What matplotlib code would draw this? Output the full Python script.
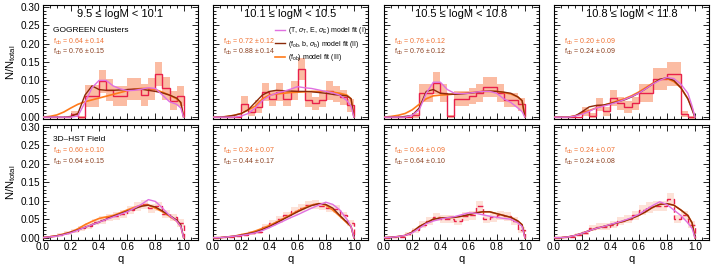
import numpy as np
import matplotlib
matplotlib.use('Agg')
import matplotlib.pyplot as plt
from matplotlib.ticker import MultipleLocator, FormatStrFormatter
from matplotlib.lines import Line2D

plt.rcParams['font.family'] = ['Liberation Sans', 'DejaVu Sans']
plt.rcParams['mathtext.fontset'] = 'custom'
plt.rcParams['mathtext.rm'] = 'Liberation Sans'
plt.rcParams['mathtext.it'] = 'Liberation Sans:italic'
plt.rcParams['mathtext.sf'] = 'Liberation Sans'

# Mass bins (column titles)
mass_bins = ['9.5 \u2264 logM < 10.1', '10.1 \u2264 logM < 10.5',
             '10.5 \u2264 logM < 10.8', '10.8 \u2264 logM < 11.8']
row_names = ['GOGREEN Clusters', '3D\u2013HST Field']

# f_ob fits: (model III, model II) per panel
fob_top = [('0.64 \u00b1 0.14', '0.76 \u00b1 0.15'), ('0.72 \u00b1 0.12', '0.88 \u00b1 0.14'),
           ('0.76 \u00b1 0.12', '0.76 \u00b1 0.12'), ('0.20 \u00b1 0.09', '0.24 \u00b1 0.09')]
fob_bot = [('0.60 \u00b1 0.10', '0.64 \u00b1 0.15'), ('0.24 \u00b1 0.07', '0.44 \u00b1 0.17'),
           ('0.64 \u00b1 0.09', '0.64 \u00b1 0.10'), ('0.24 \u00b1 0.07', '0.24 \u00b1 0.08')]

# histogram bin edges (left), width 0.05
bin_left = [0.00, 0.05, 0.10, 0.15, 0.20, 0.25, 0.30, 0.35, 0.40, 0.45,
            0.50, 0.55, 0.60, 0.65, 0.70, 0.75, 0.80, 0.85, 0.90, 0.95]

# GOGREEN cluster histograms
hist_top = [
    [0, 0, 0, 0, 0.008, 0, 0.057, 0.057, 0.097, 0.075, 0.057, 0.057, 0.077, 0.077, 0.06, 0.077, 0.118, 0.078, 0.045, 0.057],
    [0, 0, 0, 0, 0.037, 0.014, 0.028, 0.068, 0.05, 0.068, 0.05, 0.072, 0.13, 0.047, 0.038, 0.047, 0.072, 0.063, 0.054, 0.032],
    [0, 0, 0, 0, 0.005, 0.066, 0.066, 0.093, 0.066, 0.003, 0.05, 0.05, 0.057, 0.066, 0.083, 0.083, 0.066, 0.047, 0.047, 0.035],
    [0, 0, 0, 0, 0.016, 0.004, 0.034, 0.016, 0.053, 0.038, 0.028, 0.038, 0.065, 0.065, 0.104, 0.104, 0.117, 0.117, 0.008, 0],
]
err_top = [
    [0, 0, 0, 0, 0.008, 0.004, 0.03, 0.03, 0.03, 0.03, 0.028, 0.028, 0.03, 0.03, 0.03, 0.03, 0.032, 0.03, 0.025, 0.028],
    [0, 0, 0, 0, 0.02, 0.012, 0.018, 0.025, 0.02, 0.025, 0.02, 0.025, 0.03, 0.02, 0.018, 0.02, 0.025, 0.022, 0.02, 0.018],
    [0, 0, 0, 0, 0.006, 0.025, 0.025, 0.03, 0.025, 0.004, 0.02, 0.02, 0.022, 0.025, 0.027, 0.027, 0.025, 0.02, 0.02, 0.018],
    [0, 0, 0, 0, 0.012, 0.006, 0.018, 0.012, 0.022, 0.018, 0.016, 0.018, 0.025, 0.025, 0.03, 0.03, 0.032, 0.032, 0.008, 0.004],
]

# 3D-HST field histograms
hist_bot = [
    [0.002, 0.004, 0.008, 0.012, 0.018, 0.025, 0.032, 0.042, 0.048, 0.055, 0.058, 0.065, 0.075, 0.085, 0.09, 0.08, 0.085, 0.065, 0.055, 0.04],
    [0, 0.001, 0.002, 0.004, 0.008, 0.012, 0.015, 0.03, 0.04, 0.05, 0.06, 0.072, 0.08, 0.088, 0.09, 0.085, 0.08, 0.078, 0.06, 0.04],
    [0, 0.001, 0.003, 0.01, 0.02, 0.035, 0.045, 0.055, 0.05, 0.05, 0.045, 0.058, 0.06, 0.085, 0.05, 0.055, 0.06, 0.058, 0.045, 0.02],
    [0, 0.001, 0.003, 0.008, 0.012, 0.025, 0.03, 0.03, 0.035, 0.045, 0.05, 0.06, 0.075, 0.082, 0.085, 0.085, 0.105, 0.05, 0.06, 0.035],
]
err_bot = [
    [0.002, 0.003, 0.004, 0.005, 0.006, 0.007, 0.008, 0.009, 0.01, 0.01, 0.011, 0.011, 0.012, 0.012, 0.013, 0.012, 0.012, 0.011, 0.01, 0.01],
    [0.001, 0.001, 0.002, 0.003, 0.004, 0.005, 0.006, 0.007, 0.008, 0.009, 0.01, 0.01, 0.011, 0.011, 0.012, 0.011, 0.011, 0.01, 0.01, 0.009],
    [0.001, 0.001, 0.002, 0.005, 0.007, 0.009, 0.01, 0.011, 0.011, 0.011, 0.011, 0.012, 0.012, 0.015, 0.011, 0.012, 0.012, 0.012, 0.011, 0.008],
    [0.001, 0.001, 0.002, 0.004, 0.005, 0.008, 0.009, 0.009, 0.01, 0.011, 0.011, 0.012, 0.013, 0.014, 0.014, 0.014, 0.016, 0.011, 0.012, 0.01],
]

# model curves sampled on q grid
q_grid = [0.0, 0.05, 0.1, 0.15, 0.2, 0.25, 0.3, 0.35, 0.4, 0.45, 0.5, 0.55,
          0.6, 0.65, 0.7, 0.75, 0.8, 0.85, 0.9, 0.95, 0.98, 1.0]

fit_I_top = [
    [0, 0, 0, 0, 0, 0.003, 0.04, 0.08, 0.1, 0.1, 0.085, 0.077, 0.072, 0.073, 0.076, 0.08, 0.078, 0.06, 0.042, 0.035, 0.025, 0],
    [0, 0, 0, 0, 0.003, 0.01, 0.025, 0.045, 0.058, 0.065, 0.07, 0.076, 0.083, 0.08, 0.078, 0.074, 0.07, 0.066, 0.06, 0.045, 0.03, 0],
    [0, 0, 0, 0, 0.005, 0.02, 0.065, 0.095, 0.095, 0.075, 0.065, 0.064, 0.065, 0.068, 0.07, 0.07, 0.065, 0.05, 0.04, 0.025, 0.015, 0],
    [0, 0, 0, 0.003, 0.008, 0.016, 0.025, 0.03, 0.035, 0.041, 0.048, 0.056, 0.065, 0.077, 0.09, 0.1, 0.108, 0.105, 0.09, 0.065, 0.03, 0],
]
fit_II_top = [
    [0, 0, 0, 0, 0.002, 0.01, 0.06, 0.085, 0.075, 0.073, 0.073, 0.074, 0.075, 0.076, 0.076, 0.073, 0.07, 0.066, 0.06, 0.052, 0.04, 0],
    [0, 0, 0.002, 0.005, 0.01, 0.02, 0.04, 0.06, 0.07, 0.073, 0.072, 0.071, 0.07, 0.07, 0.069, 0.067, 0.065, 0.062, 0.06, 0.058, 0.05, 0],
    [0, 0, 0, 0.002, 0.005, 0.025, 0.07, 0.075, 0.065, 0.063, 0.062, 0.063, 0.065, 0.067, 0.07, 0.071, 0.07, 0.068, 0.065, 0.055, 0.045, 0],
    [0, 0, 0, 0.003, 0.015, 0.028, 0.032, 0.033, 0.037, 0.042, 0.047, 0.055, 0.065, 0.077, 0.09, 0.103, 0.107, 0.1, 0.08, 0.05, 0.02, 0],
]
fit_III_top = [
    [0, 0.002, 0.006, 0.014, 0.025, 0.035, 0.042, 0.047, 0.052, 0.057, 0.062, 0.067, 0.072, 0.076, 0.078, 0.078, 0.075, 0.068, 0.06, 0.05, 0.04, 0],
    [0, 0, 0.002, 0.005, 0.01, 0.02, 0.03, 0.05, 0.06, 0.063, 0.065, 0.067, 0.068, 0.069, 0.07, 0.07, 0.07, 0.068, 0.065, 0.06, 0.05, 0],
    [0, 0.002, 0.005, 0.01, 0.02, 0.035, 0.05, 0.058, 0.06, 0.061, 0.063, 0.065, 0.066, 0.068, 0.07, 0.07, 0.07, 0.067, 0.063, 0.055, 0.045, 0],
    [0, 0, 0, 0.004, 0.01, 0.018, 0.025, 0.032, 0.038, 0.044, 0.05, 0.058, 0.068, 0.08, 0.092, 0.102, 0.105, 0.097, 0.08, 0.05, 0.025, 0],
]

fit_I_bot = [
    [0, 0.002, 0.004, 0.008, 0.013, 0.02, 0.028, 0.035, 0.042, 0.049, 0.056, 0.063, 0.07, 0.08, 0.09, 0.103, 0.098, 0.08, 0.06, 0.045, 0.03, 0],
    [0, 0, 0.002, 0.004, 0.006, 0.009, 0.013, 0.019, 0.027, 0.036, 0.045, 0.054, 0.062, 0.071, 0.08, 0.088, 0.096, 0.09, 0.075, 0.05, 0.03, 0],
    [0, 0.001, 0.003, 0.006, 0.013, 0.025, 0.038, 0.045, 0.05, 0.054, 0.057, 0.062, 0.067, 0.066, 0.062, 0.058, 0.055, 0.052, 0.05, 0.04, 0.03, 0],
    [0, 0, 0.002, 0.006, 0.012, 0.019, 0.025, 0.03, 0.036, 0.041, 0.047, 0.054, 0.063, 0.075, 0.087, 0.097, 0.09, 0.075, 0.06, 0.04, 0.025, 0],
]
fit_II_bot = [
    [0, 0.002, 0.005, 0.009, 0.015, 0.021, 0.028, 0.035, 0.042, 0.05, 0.058, 0.065, 0.072, 0.078, 0.085, 0.088, 0.083, 0.072, 0.06, 0.048, 0.035, 0],
    [0, 0, 0.002, 0.004, 0.007, 0.011, 0.015, 0.022, 0.03, 0.04, 0.05, 0.06, 0.07, 0.079, 0.087, 0.092, 0.09, 0.08, 0.06, 0.042, 0.03, 0],
    [0, 0.001, 0.003, 0.006, 0.015, 0.03, 0.04, 0.05, 0.053, 0.054, 0.055, 0.058, 0.062, 0.067, 0.07, 0.07, 0.065, 0.06, 0.055, 0.045, 0.035, 0],
    [0, 0, 0.002, 0.006, 0.012, 0.019, 0.025, 0.03, 0.035, 0.04, 0.045, 0.052, 0.06, 0.07, 0.082, 0.09, 0.092, 0.088, 0.075, 0.06, 0.04, 0],
]
fit_III_bot = [
    [0, 0.002, 0.005, 0.01, 0.015, 0.024, 0.035, 0.044, 0.052, 0.056, 0.06, 0.067, 0.075, 0.082, 0.087, 0.088, 0.08, 0.07, 0.058, 0.045, 0.03, 0],
    [0, 0, 0.002, 0.004, 0.008, 0.012, 0.018, 0.025, 0.033, 0.042, 0.052, 0.062, 0.072, 0.081, 0.088, 0.092, 0.088, 0.075, 0.058, 0.04, 0.03, 0],
    [0, 0.001, 0.003, 0.006, 0.015, 0.03, 0.04, 0.05, 0.053, 0.054, 0.055, 0.058, 0.062, 0.067, 0.07, 0.07, 0.065, 0.06, 0.055, 0.045, 0.035, 0],
    [0, 0, 0.002, 0.006, 0.012, 0.019, 0.025, 0.03, 0.035, 0.04, 0.045, 0.052, 0.06, 0.07, 0.082, 0.09, 0.092, 0.088, 0.075, 0.06, 0.04, 0],
]

# colours
c_I = '#e070e0'
c_II = '#8b2a0a'
c_III = '#ff7a1a'
c_hist = '#e8204a'
c_err_top = '#fbbca3'
c_err_bot = '#fde2d8'
c_txt1 = '#f07030'
c_txt2 = '#8b4020'

fig = plt.figure(figsize=(7.2, 2.71), dpi=100)

lefts = [42.7, 213.0, 384.0, 554.0]
width = 155.0
W, H = 720.0, 271.0
rows = [(5.0, 119.0), (125.0, 239.5)]


def draw_panel(ax, hist, err, dashed, fI, fII, fIII):
    left = np.array(bin_left)
    h = np.array(hist)
    e = np.array(err)
    ax.bar(left, 2 * e, bottom=h - e, width=0.05, align='edge',
           color=c_err_bot if dashed else c_err_top, linewidth=0, zorder=1)
    edges = np.append(left, left[-1] + 0.05)
    ax.stairs(h, edges, color=c_hist, linewidth=1.0,
              linestyle=(0, (4, 2)) if dashed else '-', zorder=2)
    ax.plot(q_grid, fIII, color=c_III, lw=1.2, zorder=3)
    ax.plot(q_grid, fII, color=c_II, lw=1.0, zorder=4)
    ax.plot(q_grid, fI, color=c_I, lw=1.0, zorder=5)


axes = []
for r, (y0, y1) in enumerate(rows):
    for c in range(4):
        ax = fig.add_axes([lefts[c] / W, 1 - y1 / H, width / W, (y1 - y0) / H])
        if r == 0:
            draw_panel(ax, hist_top[c], err_top[c], False,
                       fit_I_top[c], fit_II_top[c], fit_III_top[c])
            fob = fob_top[c]
            ax.text(0.5, 0.92, mass_bins[c], transform=ax.transAxes,
                    ha='center', va='center', fontsize=8)
        else:
            draw_panel(ax, hist_bot[c], err_bot[c], True,
                       fit_I_bot[c], fit_II_bot[c], fit_III_bot[c])
            fob = fob_bot[c]
        ty = 0.675 if r == 0 else 0.77
        ax.text(0.065, ty, r'f$_{\rm ob}$ = ' + fob[0], transform=ax.transAxes,
                color=c_txt1, fontsize=5, va='center')
        ax.text(0.065, ty - 0.088, r'f$_{\rm ob}$ = ' + fob[1], transform=ax.transAxes,
                color=c_txt2, fontsize=5, va='center')

        ax.set_xlim(0, 1.1)
        ax.set_ylim(-0.005, 0.305)
        ax.xaxis.set_major_locator(MultipleLocator(0.2))
        ax.xaxis.set_minor_locator(MultipleLocator(0.05))
        ax.yaxis.set_major_locator(MultipleLocator(0.05))
        ax.yaxis.set_minor_locator(MultipleLocator(0.01))
        ax.yaxis.set_major_formatter(FormatStrFormatter('%.2f'))
        ax.xaxis.set_major_formatter(FormatStrFormatter('%.1f'))
        ax.tick_params(which='both', direction='in', top=True, right=True,
                       labelsize=7.2, width=0.6, pad=2,
                       labelleft=(c == 0), labelbottom=(r == 1))
        ax.tick_params(which='major', length=4)
        ax.tick_params(which='minor', length=2)

        if c == 0:
            ax.text(0.065, 0.78 if r == 0 else 0.87, row_names[r], transform=ax.transAxes,
                    fontsize=6, va='center')
            ax.set_ylabel(r'N/N$_{\rm total}$', fontsize=8, labelpad=2)
        if r == 1:
            ax.set_xlabel('q', fontsize=8, labelpad=1)
        for s in ax.spines.values():
            s.set_linewidth(0.8)
        axes.append(ax)

# legend in the second top panel
handles = [Line2D([], [], color=c_I, lw=1.0), Line2D([], [], color=c_II, lw=1.0),
           Line2D([], [], color=c_III, lw=1.2)]
labels = [r'(T, $\sigma_{\rm T}$, E, $\sigma_{\rm E}$) model fit (I)',
          r'(f$_{\rm ob}$, b, $\sigma_{\rm b}$) model fit (II)',
          r'(f$_{\rm ob}$) model fit (III)']
axes[1].legend(handles, labels, loc='upper right', bbox_to_anchor=(1.02, 0.86),
               fontsize=5, frameon=False, handlelength=1.4, handletextpad=0.5,
               labelspacing=0.35, borderaxespad=0.2)

fig.savefig('out.png', dpi=100)
